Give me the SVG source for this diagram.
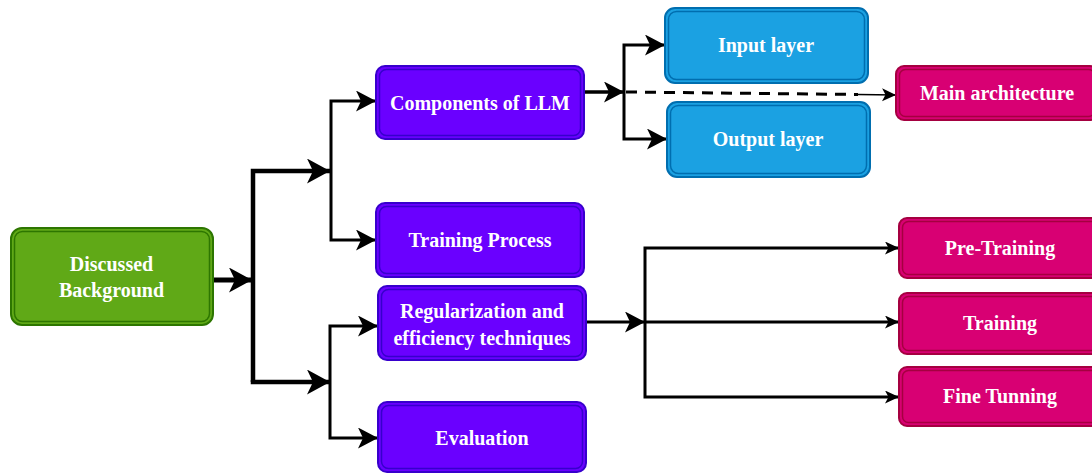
<svg xmlns="http://www.w3.org/2000/svg" width="1092" height="473" viewBox="0 0 1092 473">
<style>
.t{font-family:"Liberation Serif","Times New Roman",serif;font-weight:bold;font-size:20px;fill:#ffffff;text-anchor:middle}
.o{stroke-width:2}
.i{fill:none;stroke-width:1.5}
.g rect{stroke:#2d7600}.g .o{fill:#60a917}
.p rect{stroke:#3700cc}.p .o{fill:#6a00ff}
.b rect{stroke:#006eaf}.b .o{fill:#1ba1e2}
.m rect{stroke:#a50040}.m .o{fill:#d80073}
.e{fill:none;stroke:#000000;stroke-linejoin:miter}
</style>
<defs>
<marker id="aL" markerUnits="userSpaceOnUse" markerWidth="24" markerHeight="26" refX="23" refY="12.5" orient="auto"><path d="M0,0 L23,12.5 L0,25 L6,12.5 z" fill="#000"/></marker>
<marker id="aM" markerUnits="userSpaceOnUse" markerWidth="21" markerHeight="22" refX="20" refY="10.5" orient="auto"><path d="M0,0 L20,10.5 L0,21 L5,10.5 z" fill="#000"/></marker>
<marker id="aS" markerUnits="userSpaceOnUse" markerWidth="15" markerHeight="14" refX="14" refY="6.5" orient="auto"><path d="M0,0 L14,6.5 L0,13 L3.5,6.5 z" fill="#000"/></marker>
</defs>
<g id="connectors">
<path class="e" stroke-width="5" d="M213,280 L252,280" marker-end="url(#aL)"/>
<path class="e" stroke-width="4.5" d="M253,382 L253,171 L330,171" marker-end="url(#aL)"/>
<path class="e" stroke-width="4.5" d="M253,380 L253,382 L330,382" marker-end="url(#aL)"/>
<path class="e" stroke-width="3" d="M331,171 L331,101 L376,101" marker-end="url(#aM)"/>
<path class="e" stroke-width="3" d="M331,171 L331,240 L376,240" marker-end="url(#aM)"/>
<path class="e" stroke-width="3" d="M330,382 L330,326 L378,326" marker-end="url(#aM)"/>
<path class="e" stroke-width="3" d="M330,382 L330,438 L378,438" marker-end="url(#aM)"/>
<path class="e" stroke-width="3.5" d="M584,92 L624,92" marker-end="url(#aM)"/>
<path class="e" stroke-width="3" d="M624,92 L624,45 L665,45" marker-end="url(#aM)"/>
<path class="e" stroke-width="3" d="M624,92 L624,139 L667,139" marker-end="url(#aM)"/>
<path class="e" stroke-width="3" stroke-dasharray="11,8" d="M626,92 L858,94.5"/>
<path class="e" stroke-width="1.5" d="M858,94.5 L896,95" marker-end="url(#aS)"/>
<path class="e" stroke-width="3" d="M586,322 L645,322" marker-end="url(#aM)"/>
<path class="e" stroke-width="3" d="M645,322 L899,322" marker-end="url(#aS)"/>
<path class="e" stroke-width="3" d="M645,322 L645,248 L899,248" marker-end="url(#aS)"/>
<path class="e" stroke-width="3" d="M645,322 L645,397 L899,397" marker-end="url(#aS)"/>
</g>
<g id="discussed" class="g"><rect class="o" x="11" y="228" width="202" height="97" rx="11"/><rect class="i" x="14.5" y="231.5" width="195" height="90" rx="8"/><text class="t" x="111.5" y="271">Discussed</text><text class="t" x="111.5" y="297">Background</text></g>
<g id="components" class="p"><rect class="o" x="376" y="66" width="208" height="73" rx="9"/><rect class="i" x="379.5" y="69.5" width="201" height="66" rx="7"/><text class="t" x="480" y="110">Components of LLM</text></g>
<g id="training-process" class="p"><rect class="o" x="376" y="203" width="208" height="74" rx="9"/><rect class="i" x="379.5" y="206.5" width="201" height="67" rx="7"/><text class="t" x="480" y="247">Training Process</text></g>
<g id="regularization" class="p"><rect class="o" x="378" y="286" width="208" height="74" rx="9"/><rect class="i" x="381.5" y="289.5" width="201" height="67" rx="7"/><text class="t" x="482" y="318">Regularization and</text><text class="t" x="482" y="345">efficiency techniques</text></g>
<g id="evaluation" class="p"><rect class="o" x="378" y="402" width="208" height="70" rx="9"/><rect class="i" x="381.5" y="405.5" width="201" height="63" rx="7"/><text class="t" x="482" y="445">Evaluation</text></g>
<g id="input-layer" class="b"><rect class="o" x="665" y="8" width="203" height="75" rx="10"/><rect class="i" x="668.5" y="11.5" width="196" height="68" rx="8"/><text class="t" x="766" y="52">Input layer</text></g>
<g id="output-layer" class="b"><rect class="o" x="667" y="102" width="203" height="75" rx="10"/><rect class="i" x="670.5" y="105.5" width="196" height="68" rx="8"/><text class="t" x="768" y="146">Output layer</text></g>
<g id="main-architecture" class="m"><rect class="o" x="896" y="66" width="202" height="54" rx="8"/><rect class="i" x="899.5" y="69.5" width="195" height="47" rx="6"/><text class="t" x="997" y="100">Main architecture</text></g>
<g id="pre-training" class="m"><rect class="o" x="899" y="218" width="202" height="60" rx="8"/><rect class="i" x="902.5" y="221.5" width="195" height="53" rx="6"/><text class="t" x="1000" y="255">Pre-Training</text></g>
<g id="training" class="m"><rect class="o" x="899" y="293" width="202" height="61" rx="8"/><rect class="i" x="902.5" y="296.5" width="195" height="54" rx="6"/><text class="t" x="1000" y="330">Training</text></g>
<g id="fine-tunning" class="m"><rect class="o" x="899" y="367" width="202" height="59" rx="8"/><rect class="i" x="902.5" y="370.5" width="195" height="52" rx="6"/><text class="t" x="1000" y="403">Fine Tunning</text></g>
</svg>
